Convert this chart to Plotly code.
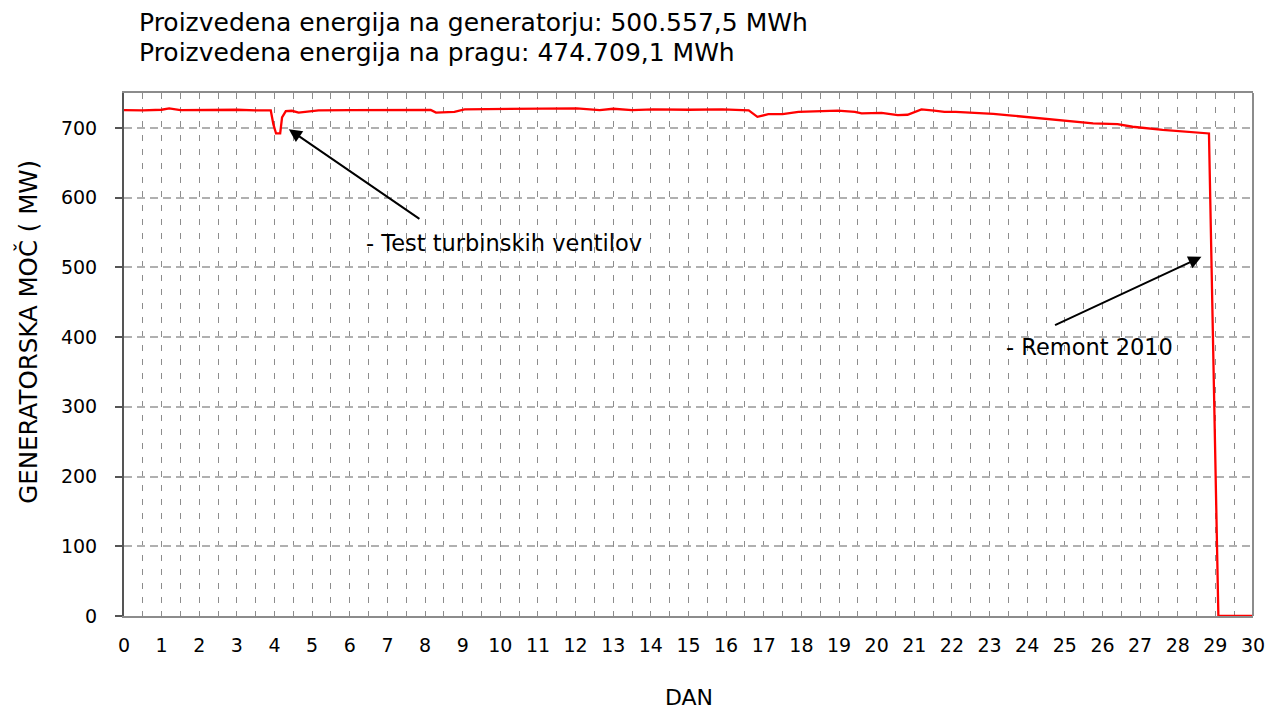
import plotly.graph_objects as go

# ---- data ----
days = [0, 0.5, 1.0, 1.2, 1.5, 2.1, 2.5, 3.0, 3.5, 3.9, 3.97, 4.04, 4.15, 4.2, 4.3,
        4.46, 4.64, 5.17, 6.0, 6.9, 7.5, 8.15, 8.29, 8.78, 9.05, 10.1, 10.8, 11.33,
        12.03, 12.64, 13.0, 13.5, 14.06, 15.0, 15.9, 16.6, 16.83, 17.12, 17.5, 17.92,
        18.55, 18.97, 19.42, 19.6, 20.13, 20.56, 20.82, 21.19, 21.53, 21.8, 22.1, 22.6,
        23.1, 23.6, 24.4, 25.2, 25.75, 26.4, 26.8, 27.6, 28.4, 28.83, 29.08, 30]
power_mw = [725.5, 725, 726, 728, 725.5, 726, 725.5, 726, 725, 725, 705, 692, 692, 715, 724,
            724.5, 722, 725, 725.5, 726, 725.7, 725.7, 722, 723, 726.6, 727.4, 728, 727.4,
            728, 725.5, 727.4, 725.5, 726.6, 726, 726.6, 725, 715.8, 719.6, 719.6, 723,
            723.9, 724.8, 723, 720.7, 721.6, 718.3, 718.8, 726.6, 724.8, 723, 723, 722,
            720, 717.5, 713.6, 708.8, 706.4, 705.5, 701.6, 697, 694.4, 692, 0, 0]

x_ticks = list(range(0, 31))
y_ticks = [0, 100, 200, 300, 400, 500, 600, 700]

title_lines = ["Proizvedena energija na generatorju: 500.557,5 MWh",
               "Proizvedena energija na pragu: 474.709,1 MWh"]
x_title = "DAN"
y_title = "GENERATORSKA MOČ ( MW)"

# annotations: (text, text_x, text_y, tail_x, tail_y, head_x, head_y)
notes = [
    ("- Test turbinskih ventilov", 6.39, 535, 7.89, 568, 4.38, 698),
    ("- Remont 2010", 23.38, 386, 24.7, 416, 28.63, 515),
]

FONT = "DejaVu Sans"

fig = go.Figure()
fig.add_trace(go.Scatter(x=days, y=power_mw, mode="lines",
                         line=dict(color="#ff0000", width=2.3), showlegend=False))

for text, tx, ty, ax_, ay_, hx, hy in notes:
    fig.add_annotation(x=hx, y=hy, ax=ax_, ay=ay_, xref="x", yref="y", axref="x", ayref="y",
                       text="", showarrow=True, arrowhead=2, arrowsize=1.3, arrowwidth=2,
                       arrowcolor="black")
    fig.add_annotation(x=tx, y=ty, xref="x", yref="y", text=text, showarrow=False,
                       xanchor="left", yanchor="middle",
                       font=dict(family=FONT, size=22.5, color="black"))

fig.add_annotation(x=(137 - 124) / 1137, y=1 + (93 - 22) / 523, xref="paper", yref="paper",
                   text=title_lines[0], showarrow=False, xanchor="left", yanchor="middle",
                   font=dict(family=FONT, size=25, color="black"))
fig.add_annotation(x=(137 - 124) / 1137, y=1 + (93 - 52) / 523, xref="paper", yref="paper",
                   text=title_lines[1], showarrow=False, xanchor="left", yanchor="middle",
                   font=dict(family=FONT, size=25, color="black"))
fig.add_annotation(x=0.5, y=-(697 - 616) / 523, xref="paper", yref="paper",
                   text=x_title, showarrow=False, xanchor="center", yanchor="middle",
                   font=dict(family=FONT, size=22, color="black"))
fig.add_annotation(x=(27 - 124) / 1137, y=(616 - 332) / 523, xref="paper", yref="paper",
                   text=y_title, showarrow=False, textangle=-90, xanchor="center",
                   yanchor="middle", font=dict(family=FONT, size=24.5, color="black"))

# right border
fig.add_shape(type="line", xref="paper", yref="paper", x0=1, x1=1, y0=0, y1=1,
              line=dict(color="#8c8c8c", width=2))

fig.update_layout(
    width=1277, height=711,
    margin=dict(l=124, r=16, t=93, b=95),
    paper_bgcolor="white", plot_bgcolor="white",
    font=dict(family=FONT, size=19, color="black"),
    xaxis=dict(range=[0, 30], tickmode="array", tickvals=x_ticks,
               ticktext=[str(v) for v in x_ticks], ticks="", ticklabelstandoff=11,
               showline=True, linecolor="#8c8c8c", linewidth=2, mirror=True,
               showgrid=True, gridcolor="#8c8c8c", gridwidth=1, griddash="6px,8px",
               minor=dict(dtick=0.5, tick0=0, showgrid=True, gridcolor="#8c8c8c",
                          gridwidth=1, griddash="6px,8px"),
               zeroline=False, layer="below traces",
               tickfont=dict(family=FONT, size=19)),
    yaxis=dict(range=[0, 750], tickmode="array", tickvals=y_ticks,
               ticks="outside", ticklen=7, tickcolor="#555555", tickwidth=1.5,
               ticklabelstandoff=14,
               showline=True, linecolor="#555555", linewidth=2,
               showgrid=True, gridcolor="#b0b0b0", gridwidth=1.5, griddash="8px,5px",
               zeroline=False, layer="below traces",
               tickfont=dict(family=FONT, size=19)),
)

fig.write_html("out.html", config={"displayModeBar": False},
               post_script="document.body.style.margin='0';document.body.style.overflow='hidden';")
